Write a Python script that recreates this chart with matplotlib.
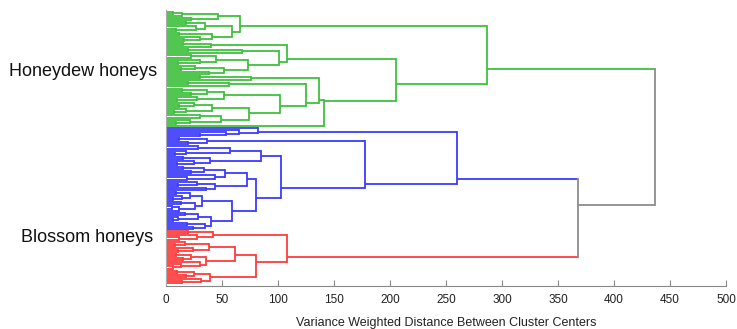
import matplotlib.pyplot as plt

plt.rcParams['font.family'] = ['Liberation Sans', 'DejaVu Sans']

L = None  # a single honey sample (leaf)

# merge heights (variance weighted distance)
honeydew_a = [66, [46, [14, [6, L, L], L], [22, L, L]],
              [59, [35, [18, L, L], [27, L, [9, L, L]]],
               [41, [12, L, L], [30, L, [16, L, L]]]]]
honeydew_b1 = [108, [40, [15, L, L], L],
               [101, [68, [20, L, L], L],
                [73, [45, [22, L, L], [30, L, [11, L, L]]],
                 [52, [26, L, [13, L, L]], [38, L, L]]]]]
honeydew_w = [74, [41, [25, L, [12, L, L]], [18, L, [7, L, L]]],
              [49, [30, L, L], [21, L, [9, L, L]]]]
honeydew_v = [102, [52, [37, [14, L, L], [22, L, L]], [28, L, [10, L, L]]], honeydew_w]
honeydew_b2 = [141, [137, [76, [30, L, L], L],
                     [125, [56, [20, L, L], L], honeydew_v]], L]
honeydew = [287, honeydew_a, [205, honeydew_b1, honeydew_b2]]

blue_a = [82, L, [65, L, [54, L, [30, L, L]]]]
blue_b = [37, [12, L, L], [20, L, L]]
blue_x = [85, [57, [29, L, L], [18, L, [8, L, L]]],
          [39, [15, L, L], [25, L, [10, L, L]]]]
blue_y1 = [72, [53, [34, [15, L, L], [22, L, L]], [44, L, [19, L, L]]],
           [44, [28, L, [11, L, L]], [36, L, L]]]
blue_y2 = [59, [32, [21, [9, L, L], [14, L, [6, L, L]]], [26, [13, L, L], [12, [5, L, L], L]]],
           [40, [29, [17, L, L], [11, L, [6, L, L]]], [35, [19, L, L], [24, L, L]]]]
blossom_blue = [260, blue_a, [178, blue_b, [103, blue_x, [80, blue_y1, blue_y2]]]]

red_1 = [42, [20, L, L], [28, L, [12, L, L]]]
red_2 = [38, [17, L, [8, L, L]], [24, L, [11, L, L]]]
red_3 = [36, [22, [9, L, L], [15, L, L]], [30, L, [13, L, [6, L, L]]]]
red_4 = [39, [25, [10, L, L], [18, L, L]], [31, L, [14, L, L]]]
blossom_red = [108, red_1, [80, [62, red_2, red_3], red_4]]

root = [437, honeydew, [368, blossom_blue, blossom_red]]

cluster_colors = {id(honeydew): '#3fc03f', id(blossom_blue): '#3c3cff',
                  id(blossom_red): '#ff3c3c'}

fig = plt.figure(figsize=(7.37, 3.29), dpi=100)
ax = fig.add_axes([166 / 737, 43 / 329, 560 / 737, 276 / 329])

leaf_count = [0]
LW = 1.3


def draw(node, color):
    # returns height, sum of leaf positions, number of leaves
    if node is None:
        y = leaf_count[0]
        leaf_count[0] += 1
        return 0, y, 1
    h, left, right = node
    parts = []
    for child in (left, right):
        c = cluster_colors.get(id(child), color)
        ch, cs, cn = draw(child, c)
        cy = cs / cn
        ax.plot([ch, h], [cy, cy], color=c, lw=LW, solid_capstyle='butt')
        parts.append((cy, cs, cn))
    ax.plot([h, h], [parts[0][0], parts[1][0]], color=color, lw=LW)
    return h, parts[0][1] + parts[1][1], parts[0][2] + parts[1][2]


draw(root, '#8c8c8c')

ax.set_xlim(0, 500)
ax.set_ylim(132.45, -0.97)
ax.set_xticks(range(0, 501, 50))
ax.set_yticks([])
ax.tick_params(axis='x', direction='in', length=4, color='#888888',
               labelsize=8.5, labelcolor='#222222', pad=6)
for s in ['top', 'right']:
    ax.spines[s].set_visible(False)
ax.spines['bottom'].set_color('#888888')
ax.spines['left'].set_color('#aaaaaa')
ax.set_xlabel('Variance Weighted Distance Between Cluster Centers',
              fontsize=9, color='#222222', labelpad=8)

fig.text(157 / 737, 1 - 72 / 329, 'Honeydew honeys', ha='right', va='center',
         fontsize=13, color='#111111')
fig.text(153 / 737, 1 - 237 / 329, 'Blossom honeys', ha='right', va='center',
         fontsize=13, color='#111111')

fig.savefig('out.png', dpi=100)
